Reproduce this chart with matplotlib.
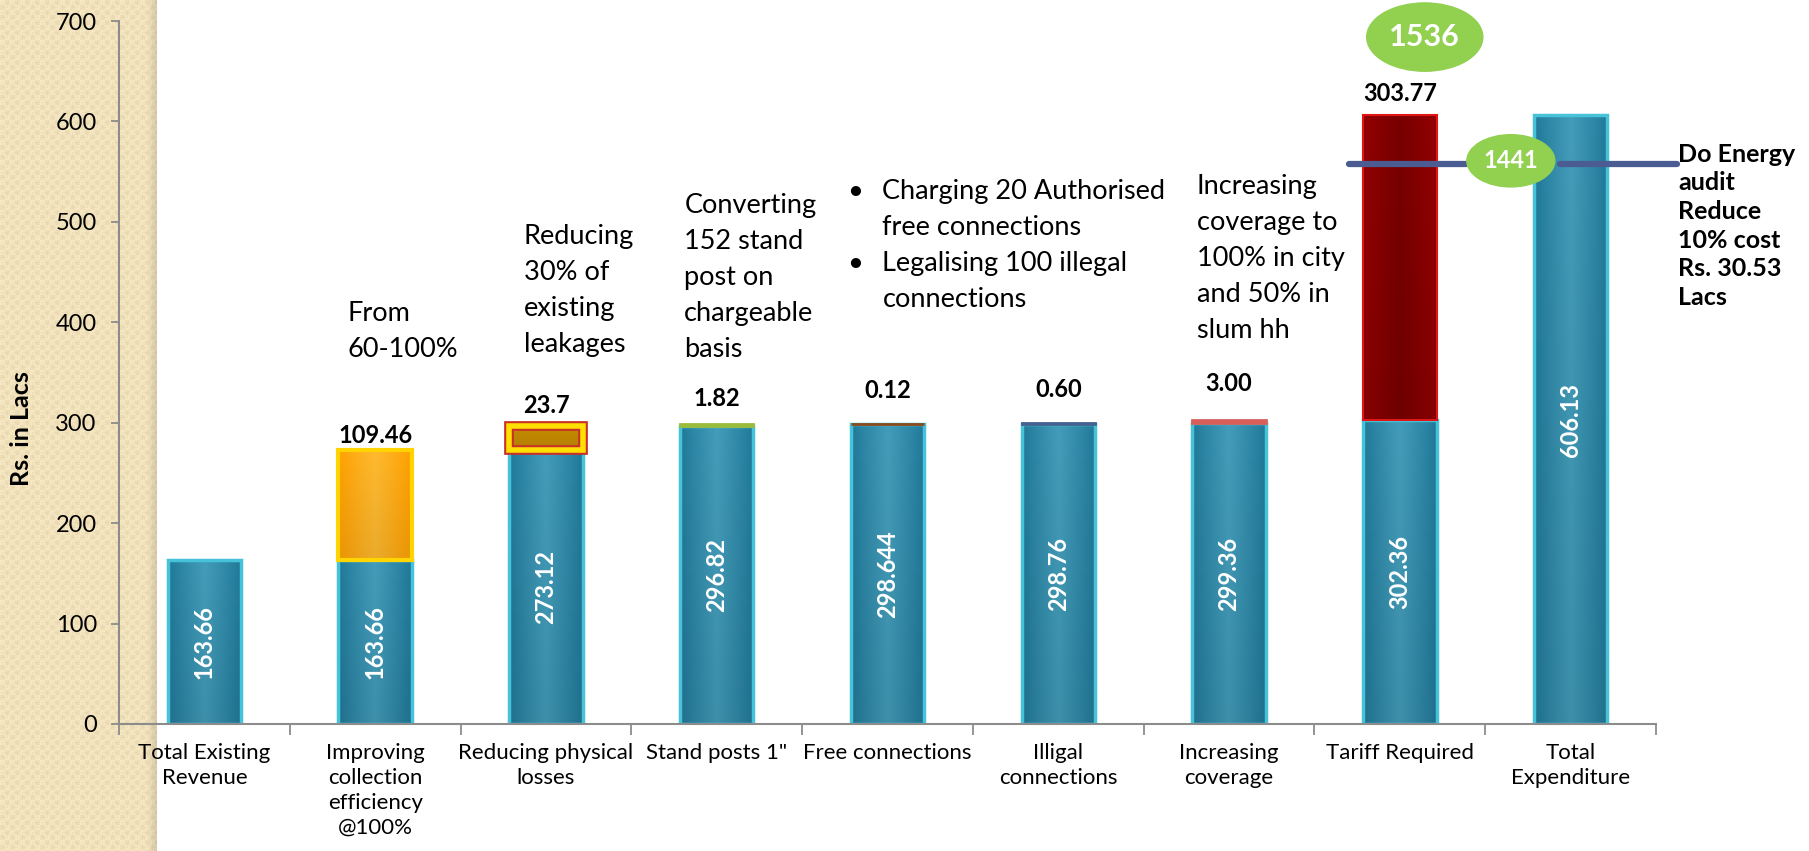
import numpy as np
import matplotlib
matplotlib.use("Agg")
import matplotlib.pyplot as plt
from matplotlib.patches import Ellipse
from matplotlib.colors import to_rgb

# ---------------- data ----------------
categories = ["Total Existing\nRevenue", "Improving\ncollection\nefficiency\n@100%",
              "Reducing physical\nlosses", "Stand posts 1\"", "Free connections",
              "Illigal\nconnections", "Increasing\ncoverage", "Tariff Required",
              "Total\nExpenditure"]
base_values = [163.66, 163.66, 273.12, 296.82, 298.644, 298.76, 299.36, 302.36, 606.13]
base_labels = ["163.66", "163.66", "273.12", "296.82", "298.644", "298.76", "299.36", "302.36", "606.13"]
increment_values = [0, 109.46, 23.7, 1.82, 0.12, 0.60, 3.00, 303.77, 0]
increment_labels = ["", "109.46", "23.7", "1.82", "0.12", "0.60", "3.00", "303.77", ""]
y_ticks = [0, 100, 200, 300, 400, 500, 600, 700]

note_texts = ["From\n60-100%",
              "Reducing\n30% of\nexisting\nleakages",
              "Converting\n152 stand\npost on\nchargeable\nbasis",
              "Charging 20 Authorised\nfree connections\nLegalising 100 illegal\nconnections",
              "Increasing\ncoverage to\n100% in city\nand 50% in\nslum hh"]
bubble_total = "1536"
bubble_reduced = "1441"
energy_note = "Do Energy\naudit\nReduce\n10% cost\nRs. 30.53\nLacs"

# ---------------- style ----------------
plt.rcParams['font.family'] = ['Lato', 'DejaVu Sans']
inc_face = [None, '#FFA800', '#C48A00', '#9BBB3B', '#8B4A1C', '#44618F', '#D9605A', '#7E0000', None]
inc_mid = [None, '#FFBA30', '#C48A00', '#9BBB3B', '#8B4A1C', '#44618F', '#D9605A', '#780000', None]
inc_side = [None, '#FFA000', '#C48A00', '#9BBB3B', '#8B4A1C', '#44618F', '#D9605A', '#950000', None]
inc_edge = [None, '#FFD400', '#FFE000', '#9BBB3B', '#8B4A1C', '#44618F', '#D9605A', '#E01515', None]
inc_lw = [0, 3, 4, 2, 2, 2, 2, 1.5, 0]
label_pad = [0, 5, 9.5, 13, 19, 19, 21, 10, 0]

W, H = 1809, 851
fig = plt.figure(figsize=(W / 100, H / 100), dpi=100, facecolor='white')

# beige patterned band on the left
bw = 157
yy, xx = np.mgrid[0:H, 0:bw]
light = np.array(to_rgb('#F6E7C3'))
dark = np.array(to_rgb('#EAD7AA'))
cell = ((xx // 5) + (yy // 5)) % 2
img = light[None, None, :] * (1 - cell[..., None] * 0.55) + dark[None, None, :] * (cell[..., None] * 0.55)
sx, sy = xx % 10, yy % 10
ring = ((sx >= 2) & (sx <= 7) & (sy >= 2) & (sy <= 7)) & ~((sx >= 3) & (sx <= 6) & (sy >= 3) & (sy <= 6))
img[ring] = img[ring] * 0.97
shade = np.clip((xx - 146) / 11.0, 0, 1)[..., None]
img = img * (1 - 0.12 * shade)
bg = fig.add_axes([0, 0, bw / W, 1], zorder=0)
bg.imshow(img, aspect='auto', interpolation='nearest')
bg.axis('off')

ax = fig.add_axes([119 / W, 1 - 724 / H, (1656 - 119) / W, (724 - 21) / H], zorder=1)
ax.patch.set_visible(False)

x = np.arange(len(categories))
bar_w = 0.43


def gradient_fill(patch, c_side, c_mid, zorder):
    x0, y0 = patch.get_x(), patch.get_y()
    w, h = patch.get_width(), patch.get_height()
    if h <= 0:
        return
    t = np.linspace(0, 1, 80)
    prof = (1 - np.abs(2 * t - 1)) ** 0.9
    cs, cm = np.array(to_rgb(c_side)), np.array(to_rgb(c_mid))
    row = cs[None, :] * (1 - prof[:, None]) + cm[None, :] * prof[:, None]
    v = np.linspace(0, 1, 40)
    vert = 1 - 0.08 * v  # slightly darker toward bottom
    im_arr = row[None, :, :] * vert[:, None, None]
    im = ax.imshow(np.clip(im_arr, 0, 1), extent=(x0, x0 + w, y0, y0 + h), aspect='auto',
                   zorder=zorder, interpolation='bilinear', origin='upper')
    im.set_clip_path(patch)


# base (teal) bars
base_bars = ax.bar(x, base_values, width=bar_w, color='#2A86A3', edgecolor='none', zorder=2)
for p in base_bars:
    gradient_fill(p, '#1F7898', '#439CB9', 2.2)
ax.bar(x, base_values, width=bar_w, color='none', edgecolor='#46C3D8', linewidth=2.5, zorder=2.5)

# increments
inc_idx = [i for i, v in enumerate(increment_values) if v > 0]
inc_x = [x[i] for i in inc_idx]
inc_b = [base_values[i] for i in inc_idx]
inc_v = [increment_values[i] for i in inc_idx]
inc_bars = ax.bar(inc_x, inc_v, bottom=inc_b, width=bar_w,
                  color=[inc_face[i] for i in inc_idx], edgecolor='none', zorder=3)
for p, i in zip(inc_bars, inc_idx):
    gradient_fill(p, inc_side[i], inc_mid[i], 3.1)
# red outline for the leakage segment
i_leak = 2
ax.bar([x[i_leak]], [increment_values[i_leak]], bottom=[base_values[i_leak]], width=bar_w,
       color='none', edgecolor='#C8302A', linewidth=7, zorder=3.2)
ax.bar(inc_x, inc_v, bottom=inc_b, width=bar_w, color='none',
       edgecolor=[inc_edge[i] for i in inc_idx], linewidth=[inc_lw[i] for i in inc_idx], zorder=3.3)

# labels inside bars
for xi, b, lbl in zip(x, base_values, base_labels):
    ax.text(xi, b / 2, lbl, rotation=90, ha='center', va='center', color='white',
            fontsize=17, fontweight='bold', zorder=5)

# labels above increments
for i in inc_idx:
    ax.annotate(increment_labels[i], (x[i], base_values[i] + increment_values[i]),
                xytext=(0, label_pad[i]), textcoords='offset points', ha='center',
                va='baseline', fontsize=17, fontweight='bold', zorder=5)

# notes
note_fs = 19.5
note_ls = 1.55
note_pos = [(0.84, 421), (1.87, 498), (2.81, 529), (3.97, 543), (5.81, 548)]
for k, (txt, (nx, ny)) in enumerate(zip(note_texts, note_pos)):
    ax.text(nx, ny, txt, ha='left', va='top', fontsize=note_fs, linespacing=note_ls, zorder=5)
    if k == 3:
        ax.text(3.765, ny, "\u2022\n \n\u2022\n ", ha='left', va='top', fontsize=note_fs,
                linespacing=note_ls, zorder=5)

# bubbles and energy-audit line
ax.add_patch(Ellipse((7.146, 684), 0.68, 68, color='#92D050', clip_on=False, zorder=6))
ax.text(7.146, 684, bubble_total, ha='center', va='center', color='white', fontsize=22,
        fontweight='bold', zorder=7, clip_on=False)
ax.plot([6.70, 7.386], [557.8, 557.8], color='#4B5C92', lw=4.5, solid_capstyle='round',
        zorder=6, clip_on=False)
ax.plot([7.937, 8.622], [557.8, 557.8], color='#4B5C92', lw=4.5, solid_capstyle='round',
        zorder=6, clip_on=False)
ax.add_patch(Ellipse((7.65, 560.8), 0.515, 52, color='#92D050', clip_on=False, zorder=6))
ax.text(7.65, 560.8, bubble_reduced, ha='center', va='center', color='white', fontsize=17,
        fontweight='bold', zorder=7, clip_on=False)
ax.text(8.63, 579, energy_note, ha='left', va='top', fontsize=18, fontweight='bold',
        linespacing=1.3, zorder=7, clip_on=False)

# axes styling
ax.set_xlim(-0.5, 8.5)
ax.set_ylim(0, 700)
ax.set_yticks(y_ticks)
ax.set_xticks(x)
ax.set_xticklabels(categories, fontsize=16, linespacing=1.3)
ax.set_xticks(np.arange(-0.5, len(categories), 1), minor=True)
ax.tick_params(axis='x', which='major', length=0, pad=14)
ax.tick_params(axis='x', which='minor', length=8, color='#8C8C8C', width=1.3, direction='out')
ax.tick_params(axis='y', length=6, color='#8C8C8C', width=1.3, direction='out', labelsize=17, pad=10)
for s in ['top', 'right']:
    ax.spines[s].set_visible(False)
for s in ['left', 'bottom']:
    ax.spines[s].set_color('#8C8C8C')
    ax.spines[s].set_linewidth(1.5)
ax.set_ylabel('Rs. in Lacs', fontsize=18, fontweight='bold')
ax.yaxis.set_label_coords(-0.056, 0.42)

fig.savefig('out.png', dpi=100, facecolor='white')
